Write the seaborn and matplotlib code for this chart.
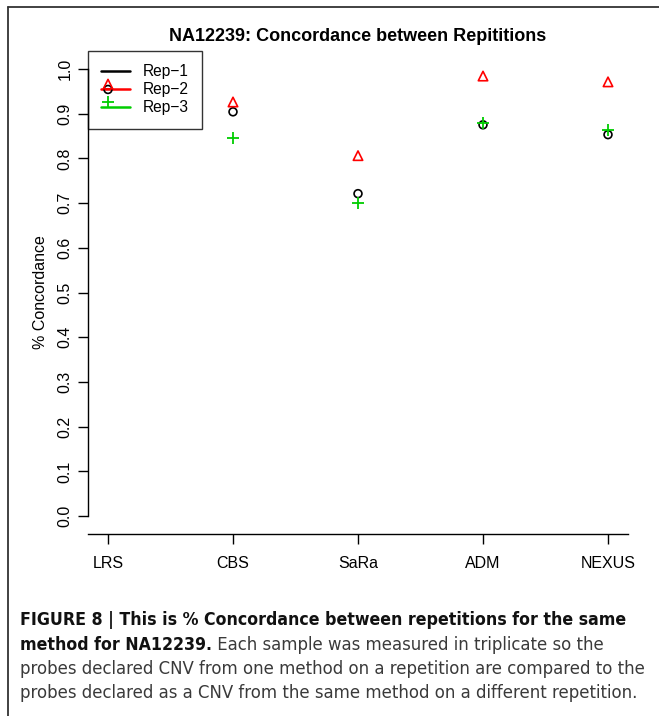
import matplotlib
matplotlib.use("Agg")
import matplotlib.pyplot as plt
from matplotlib.lines import Line2D
import seaborn as sns
import pandas as pd

methods = ["LRS", "CBS", "SaRa", "ADM", "NEXUS"]
rep1 = [0.954, 0.904, 0.721, 0.875, 0.853]
rep2 = [0.966, 0.926, 0.806, 0.984, 0.971]
rep3 = [0.926, 0.846, 0.701, 0.879, 0.864]
rep_names = ["Rep\u22121", "Rep\u22122", "Rep\u22123"]
y_ticks = [0.0, 0.1, 0.2, 0.3, 0.4, 0.5, 0.6, 0.7, 0.8, 0.9, 1.0]

title = "NA12239: Concordance between Repititions"
ylabel = "% Concordance"
caption_bold = ["FIGURE 8 | This is % Concordance between repetitions for the same",
                "method for NA12239."]
caption_rest = [" Each sample was measured in triplicate so the",
                "probes declared CNV from one method on a repetition are compared to the",
                "probes declared as a CNV from the same method on a different repetition."]

sns.set_theme(style="white")
plt.rcParams['font.family'] = ['Liberation Sans', 'DejaVu Sans']
plt.rcParams['axes.edgecolor'] = 'black'
plt.rcParams['axes.linewidth'] = 1.0
plt.rcParams['text.color'] = 'black'
plt.rcParams['axes.labelcolor'] = 'black'

df = pd.DataFrame({
    'pos': list(range(1, 6)) * 3,
    'value': rep1 + rep2 + rep3,
    'rep': [rep_names[0]] * 5 + [rep_names[1]] * 5 + [rep_names[2]] * 5,
})

colors = {rep_names[0]: 'black', rep_names[1]: '#FF0000', rep_names[2]: '#00CD00'}
markers = {rep_names[0]: 'o', rep_names[1]: '^', rep_names[2]: '+'}
sizes = {rep_names[0]: 32, rep_names[1]: 46, rep_names[2]: 85}

fig = plt.figure(figsize=(6.59, 7.16), dpi=100)
ax = fig.add_axes([88 / 659, (716 - 534) / 716, 540 / 659, 483 / 716])
ax.set_facecolor('none')

for r in rep_names:
    sub = df[df['rep'] == r]
    if markers[r] == '+':
        sns.scatterplot(data=sub, x='pos', y='value', marker='+', color=colors[r],
                        s=sizes[r], linewidth=1.3, ax=ax, legend=False, zorder=3)
    else:
        sns.scatterplot(data=sub, x='pos', y='value', marker=markers[r],
                        facecolors='none', edgecolor=colors[r], s=sizes[r],
                        linewidth=1.2, ax=ax, legend=False, zorder=3)

ax.set_xlim(0.84, 5.16)
ax.set_ylim(-0.04, 1.04)
ax.set_xticks(range(1, 6))
ax.set_xticklabels(methods)
ax.set_yticks(y_ticks)
ax.set_yticklabels([f"{v:.1f}" for v in y_ticks], rotation=90, va='center')
ax.set_xlabel("")
ax.set_ylabel(ylabel, fontsize=11.5, labelpad=7)
ax.set_title(title, fontsize=13, fontweight='bold', pad=7, color='black')

for s in ['top', 'right']:
    ax.spines[s].set_visible(False)
ax.spines['left'].set_bounds(0, 1)
ax.tick_params(axis='both', which='both', direction='out', length=7, width=1,
               labelsize=11.5, colors='black', left=True, bottom=True)
ax.tick_params(axis='y', pad=4)
ax.tick_params(axis='x', pad=9)

handles = [Line2D([0], [0], color=colors[r], lw=1.8) for r in rep_names]
leg = ax.legend(handles, rep_names, loc='upper left', bbox_to_anchor=(0.0, 1.0),
                borderaxespad=0, fancybox=False, fontsize=11.2, handlelength=1.85,
                handletextpad=0.85, labelspacing=0.2, borderpad=0.85,
                frameon=True, edgecolor='black')
leg.get_frame().set_facecolor('none')
leg.get_frame().set_linewidth(1.0)
leg.set_zorder(1)

# page frame
fig.add_artist(Line2D([8 / 659, 1], [1 - 7 / 716, 1 - 7 / 716], transform=fig.transFigure,
                      color='#333333', lw=1.3))
fig.add_artist(Line2D([8 / 659, 8 / 659], [0, 1 - 7 / 716], transform=fig.transFigure,
                      color='#333333', lw=1.3))

cap_font = ['DejaVu Sans']
line_y = [620, 645, 669, 693]
x0 = 20 / 659
cap_kw = dict(family=cap_font, fontstretch='condensed', va='center', ha='left')
fig.text(x0, 1 - line_y[0] / 716, caption_bold[0], fontsize=12.7, fontweight='bold',
         color='#111111', **cap_kw)
t = fig.text(x0, 1 - line_y[1] / 716, caption_bold[1], fontsize=12.7, fontweight='bold',
             color='#111111', **cap_kw)
fig.canvas.draw()
bb = t.get_window_extent(fig.canvas.get_renderer())
fig.text(bb.x1 / fig.bbox.width, 1 - line_y[1] / 716, caption_rest[0], fontsize=13.2,
         color='#3a3a3a', **cap_kw)
fig.text(x0, 1 - line_y[2] / 716, caption_rest[1], fontsize=13.2, color='#3a3a3a', **cap_kw)
fig.text(x0, 1 - line_y[3] / 716, caption_rest[2], fontsize=13.2, color='#3a3a3a', **cap_kw)

fig.savefig("out.png", dpi=100)
